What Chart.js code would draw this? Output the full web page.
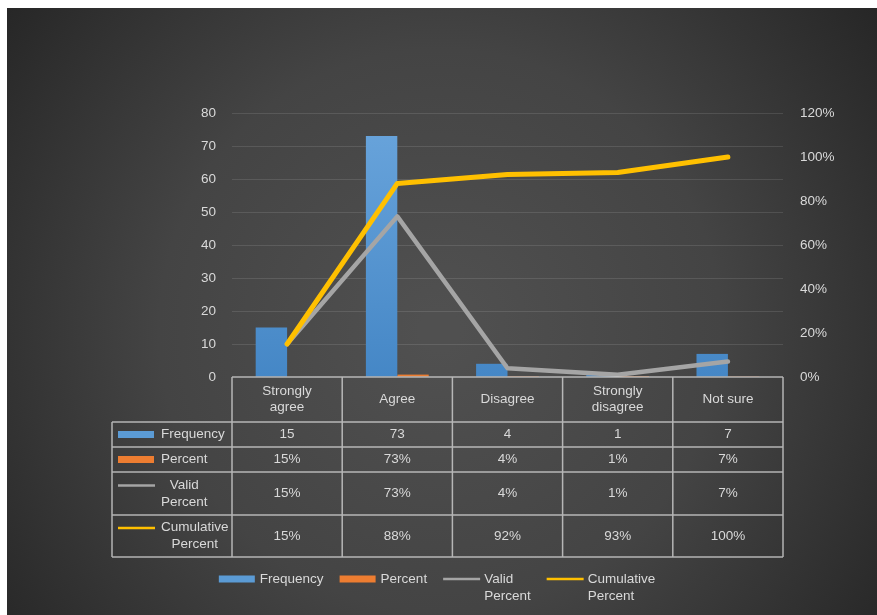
<!DOCTYPE html>
<html>
<head>
<meta charset="utf-8">
<script src="https://cdn.jsdelivr.net/npm/chart.js@4"></script>
<style>
  html, body { margin: 0; padding: 0; background: #fff; }
  #wrap { width: 877px; height: 615px; }
</style>
</head>
<body>
<div id="wrap"><canvas id="chart" width="877" height="615"></canvas></div>
<script>
// survey responses
const categories = [['Strongly', 'agree'], 'Agree', 'Disagree', ['Strongly', 'disagree'], 'Not sure'];
const frequency = [15, 73, 4, 1, 7];
const percent = [0.15, 0.73, 0.04, 0.01, 0.07];
const validPercent = [0.15, 0.73, 0.04, 0.01, 0.07];
const cumulativePercent = [0.15, 0.88, 0.92, 0.93, 1.00];

const leftTicks = [0, 10, 20, 30, 40, 50, 60, 70, 80];
const rightTicks = [0, 0.2, 0.4, 0.6, 0.8, 1.0, 1.2];

const FONT = 'Arial, "Liberation Sans", sans-serif';
const TEXT = '#d9d9d9';
const BORDER = 'rgba(210, 210, 210, 0.8)';
const BLUE = '#5b9bd5';
const ORANGE = '#ed7d31';
const GRAY = '#a5a5a5';
const GOLD = '#ffc000';

const pct = (v) => Math.round(v * 100) + '%';

// rows of the data table under the plot: key type, colour, name lines, cell text
const tableRows = [
    { key: 'bar', color: BLUE, name: ['Frequency'], cells: frequency.map(String), top: 422, bottom: 447 },
    { key: 'bar', color: ORANGE, name: ['Percent'], cells: percent.map(pct), top: 447, bottom: 472 },
    { key: 'line', color: GRAY, name: ['Valid', 'Percent'], cells: validPercent.map(pct), top: 472, bottom: 515 },
    { key: 'line', color: GOLD, name: ['Cumulative', 'Percent'], cells: cumulativePercent.map(pct), top: 515, bottom: 557 }
];
const headerBottom = 422;
const nameColLeft = 112;

const backdrop = {
    id: 'backdrop',
    beforeDraw(chart) {
        const { ctx, width, height } = chart;
        ctx.save();
        ctx.fillStyle = '#ffffff';
        ctx.fillRect(0, 0, width, height);
        const g = ctx.createRadialGradient(440, 330, 20, 440, 330, 600);
        g.addColorStop(0, '#505050');
        g.addColorStop(0.45, '#444444');
        g.addColorStop(1, '#202020');
        ctx.fillStyle = g;
        ctx.fillRect(7, 8, width - 7, height - 8);
        ctx.restore();
    }
};

function drawKey(ctx, type, color, x, y) {
    if (type === 'bar') {
        ctx.fillStyle = color;
        ctx.fillRect(x, y - 3.5, 36, 7);
    } else {
        ctx.strokeStyle = color;
        ctx.lineWidth = 2.5;
        ctx.beginPath();
        ctx.moveTo(x, y);
        ctx.lineTo(x + 37, y);
        ctx.stroke();
    }
}

const dataTable = {
    id: 'dataTable',
    afterDraw(chart) {
        const { ctx, chartArea } = chart;
        const x = chart.scales.x;
        const n = categories.length;
        const half = (x.getPixelForValue(1) - x.getPixelForValue(0)) / 2;
        const edges = [];
        for (let i = 0; i < n; i++) edges.push(x.getPixelForValue(i) - half);
        edges.push(x.getPixelForValue(n - 1) + half);
        const top = chartArea.bottom;
        const last = tableRows[tableRows.length - 1].bottom;

        ctx.save();
        ctx.strokeStyle = BORDER;
        ctx.lineWidth = 1.5;
        ctx.beginPath();
        // horizontal rules
        ctx.moveTo(edges[0], top); ctx.lineTo(edges[n], top);
        tableRows.forEach((r) => { ctx.moveTo(nameColLeft, r.top); ctx.lineTo(edges[n], r.top); });
        ctx.moveTo(nameColLeft, last); ctx.lineTo(edges[n], last);
        // vertical rules
        edges.forEach((e) => { ctx.moveTo(e, top); ctx.lineTo(e, last); });
        ctx.moveTo(nameColLeft, headerBottom); ctx.lineTo(nameColLeft, last);
        ctx.stroke();

        ctx.font = '13.5px ' + FONT;
        ctx.fillStyle = TEXT;
        ctx.textAlign = 'center';
        ctx.textBaseline = 'middle';

        // category header
        categories.forEach((c, i) => {
            const lines = Array.isArray(c) ? c : [c];
            const cx = x.getPixelForValue(i);
            const cy = (top + headerBottom) / 2;
            lines.forEach((t, k) => ctx.fillText(t, cx, cy + (k - (lines.length - 1) / 2) * 16));
        });

        // body rows
        tableRows.forEach((r) => {
            const cy = (r.top + r.bottom) / 2;
            r.cells.forEach((t, i) => {
                ctx.fillStyle = TEXT;
                ctx.fillText(t, x.getPixelForValue(i), cy);
            });
            const keyY = r.name.length > 1 ? cy - 8 : cy;
            drawKey(ctx, r.key, r.color, 118, keyY);
            const widths = r.name.map((t) => ctx.measureText(t).width);
            const blockW = Math.max(...widths);
            ctx.fillStyle = TEXT;
            r.name.forEach((t, k) => {
                ctx.fillText(t, 161 + blockW / 2, cy + (k - (r.name.length - 1) / 2) * 17);
            });
        });

        // legend along the bottom
        const items = tableRows.map((r) => ({ key: r.key, color: r.color, name: r.name,
            w: 36 + 5 + Math.max(...r.name.map((t) => ctx.measureText(t).width)) }));
        const gap = 16;
        const total = items.reduce((s, it) => s + it.w, 0) + gap * (items.length - 1);
        let lx = 437 - total / 2;
        const ly = 579;
        ctx.textAlign = 'left';
        items.forEach((it) => {
            drawKey(ctx, it.key, it.color, lx, ly);
            ctx.fillStyle = TEXT;
            it.name.forEach((t, k) => ctx.fillText(t, lx + 41, ly + k * 17));
            lx += it.w + gap;
        });
        ctx.restore();
    }
};

const ctx = document.getElementById('chart').getContext('2d');
const blueFill = ctx.createLinearGradient(0, 113, 0, 377);
blueFill.addColorStop(0, '#6aa5dc');
blueFill.addColorStop(1, '#4587c6');

new Chart(ctx, {
    type: 'bar',
    data: {
        labels: categories,
        datasets: [
            { label: 'Frequency', data: frequency, backgroundColor: blueFill, yAxisID: 'y', order: 3 },
            { label: 'Percent', data: percent, backgroundColor: ORANGE, yAxisID: 'y', order: 4 },
            { type: 'line', label: 'Valid Percent', data: validPercent, borderColor: GRAY, borderWidth: 4.5,
              pointRadius: 0, borderCapStyle: 'round', borderJoinStyle: 'round', tension: 0, yAxisID: 'y1', order: 2 },
            { type: 'line', label: 'Cumulative Percent', data: cumulativePercent, borderColor: GOLD, borderWidth: 5,
              pointRadius: 0, borderCapStyle: 'round', borderJoinStyle: 'round', tension: 0, yAxisID: 'y1', order: 1 }
        ]
    },
    options: {
        responsive: false,
        animation: false,
        devicePixelRatio: 1,
        layout: { padding: { top: 113, bottom: 238, left: 0, right: 0 } },
        datasets: { bar: { categoryPercentage: 0.57, barPercentage: 1 } },
        plugins: { legend: { display: false }, tooltip: { enabled: false } },
        scales: {
            x: { display: false, offset: true },
            y: {
                position: 'left',
                min: 0, max: 80,
                afterFit: (s) => { s.width = 232; },
                afterBuildTicks: (s) => { s.ticks = leftTicks.map((v) => ({ value: v })); },
                grid: { color: (c) => c.tick && c.tick.value === 0 ? 'rgba(0,0,0,0)' : 'rgba(255,255,255,0.11)', lineWidth: 1, drawTicks: false },
                border: { display: false },
                ticks: { color: TEXT, font: { family: FONT, size: 13.5 }, padding: 16 }
            },
            y1: {
                position: 'right',
                min: 0, max: 1.2,
                afterFit: (s) => { s.width = 94; },
                afterBuildTicks: (s) => { s.ticks = rightTicks.map((v) => ({ value: v })); },
                grid: { display: false, drawTicks: false },
                border: { display: false },
                ticks: { color: TEXT, font: { family: FONT, size: 13.5 }, padding: 17,
                         callback: (v) => pct(v) }
            }
        }
    },
    plugins: [backdrop, dataTable]
});
</script>
</body>
</html>
